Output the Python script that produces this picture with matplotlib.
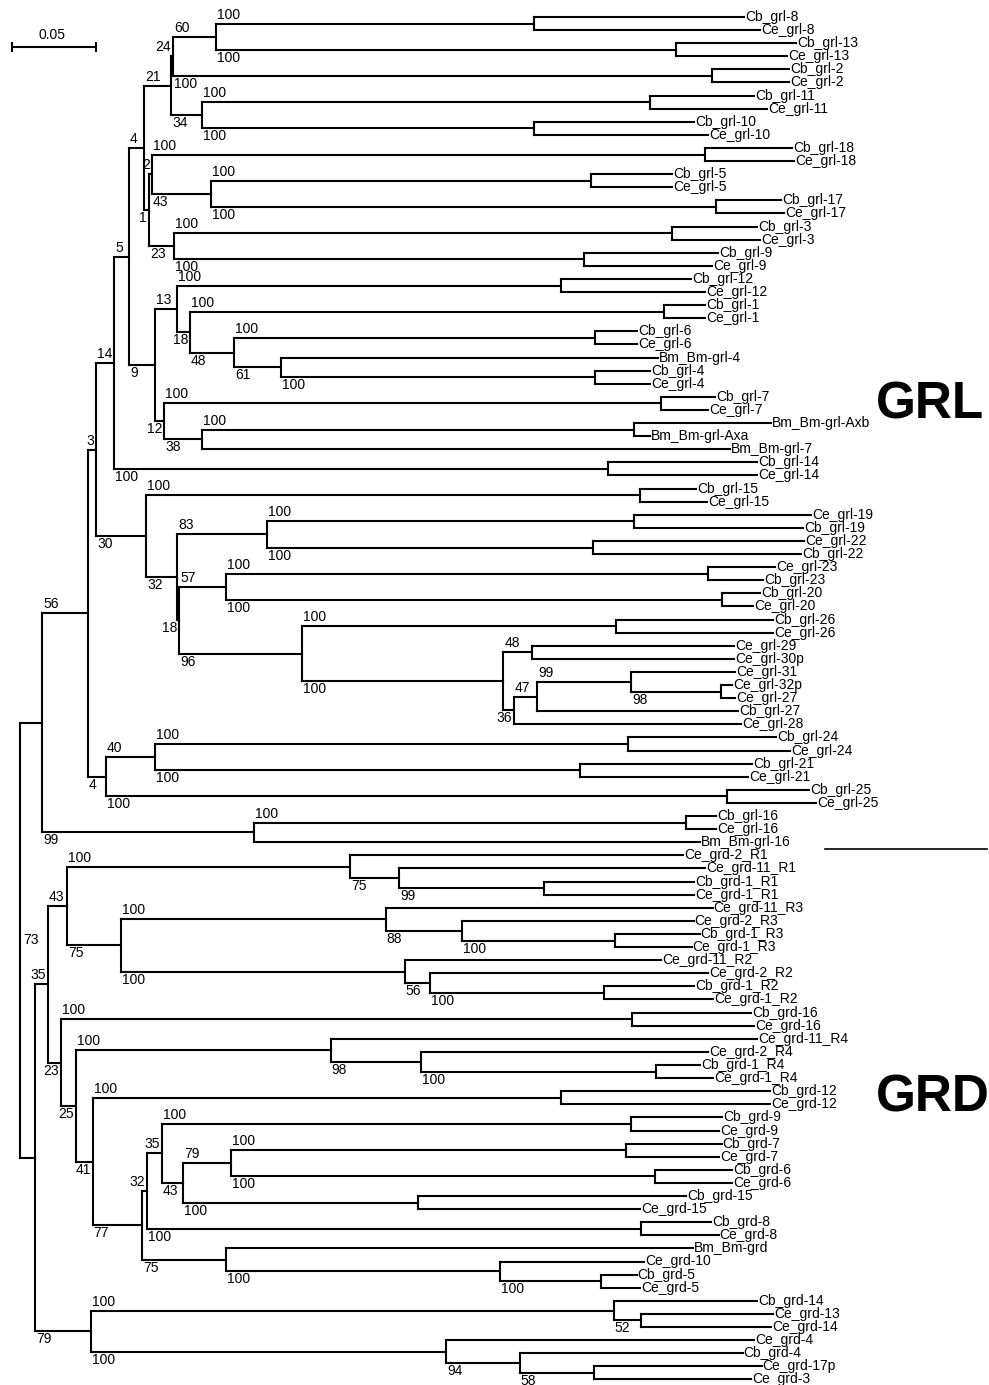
import matplotlib
matplotlib.use("Agg")
import matplotlib.pyplot as plt
from matplotlib.collections import LineCollection
from matplotlib import transforms

plt.rcParams['font.family'] = ['Liberation Sans', 'DejaVu Sans']

# ---------------- data: tree pieces (Newick, branch lengths in subst./site, bootstrap %) ----
clade_grl8_13 = "((Cb_grl-8:0.1250,Ce_grl-8:0.1345)100:0.1893,(Cb_grl-13:0.0714,Ce_grl-13:0.0661)100:0.2738)60:0.0256"
clade_grl2 = "(Cb_grl-2:0.0458,Ce_grl-2:0.0458)100:0.3208"
clade_grl11_10 = "((Cb_grl-11:0.0619,Ce_grl-11:0.0696)100:0.2667,(Cb_grl-10:0.0952,Ce_grl-10:0.1036)100:0.1976)34:0.0185"
clade_grl18_5_17 = "((Cb_grl-18:0.0518,Ce_grl-18:0.0530)100:0.3292,((Cb_grl-5:0.0482,Ce_grl-5:0.0482)100:0.2262,(Cb_grl-17:0.0387,Ce_grl-17:0.0405)100:0.3006)43:0.0351)2:0.0018"
clade_grl3_9 = "((Cb_grl-3:0.0506,Ce_grl-3:0.0524)100:0.2964,(Cb_grl-9:0.0798,Ce_grl-9:0.0762)100:0.2440)23:0.0149"
clade_grl12_1_6_4 = "((Cb_grl-12:0.0774,Ce_grl-12:0.0857)100:0.2286,((Cb_grl-1:0.0244,Ce_grl-1:0.0244)100:0.2821,((Cb_grl-6:0.0250,Ce_grl-6:0.0250)100:0.2149,(Bm_Bm-grl-4:0.2244,(Cb_grl-4:0.0327,Ce_grl-4:0.0327)100:0.1869)61:0.0280)48:0.0262)18:0.0077)13:0.0131"
clade_grl7_Ax = "((Cb_grl-7:0.0321,Ce_grl-7:0.0280)100:0.2958,((Bm_Bm-grl-Axb:0.0815,Bm_Bm-grl-Axa:0.0095)100:0.2571,Bm_Bm-grl-7:0.3143)38:0.0226)12:0.0054"
clade_grl14 = "(Cb_grl-14:0.0887,Ce_grl-14:0.0887)100:0.2940"
clade_grl15 = "(Cb_grl-15:0.0333,Ce_grl-15:0.0399)100:0.2940"
clade_grl19_22 = "((Ce_grl-19:0.1054,Cb_grl-19:0.1006)100:0.2185,(Ce_grl-22:0.1256,Cb_grl-22:0.1238)100:0.1940)83:0.0536"
clade_grl23_20 = "((Ce_grl-23:0.0399,Cb_grl-23:0.0327)100:0.2869,(Cb_grl-20:0.0226,Ce_grl-20:0.0185)100:0.2952)57:0.0280"
clade_grl26_32 = "((Cb_grl-26:0.0935,Ce_grl-26:0.0935)100:0.1869,((Ce_grl-29:0.1202,Ce_grl-30p:0.1202)48:0.0173,(((Ce_grl-31:0.0619,(Ce_grl-32p:0.0065,Ce_grl-27:0.0083)98:0.0536)99:0.0560,Cb_grl-27:0.1196)47:0.0137,Ce_grl-28:0.1351)36:0.0065)100:0.1196)96:0.0732"
clade_grl24_21_25 = "(((Cb_grl-24:0.0881,Ce_grl-24:0.0964)100:0.2815,(Cb_grl-21:0.1024,Ce_grl-21:0.1000)100:0.2530)40:0.0292,(Cb_grl-25:0.0488,Ce_grl-25:0.0530)100:0.3696)4:0.0107"
clade_grl16 = "((Cb_grl-16:0.0179,Ce_grl-16:0.0179)100:0.2571,Bm_Bm-grl-16:0.2655)99:0.1262"

clade_R1 = "(Ce_grd-2_R1:0.1982,(Ce_grd-11_R1:0.1821,(Cb_grd-1_R1:0.0893,Ce_grd-1_R1:0.0893)99:0.0863)75:0.0292)100:0.1685"
clade_R3 = "(Ce_grd-11_R3:0.1946,(Ce_grd-2_R3:0.1381,(Cb_grd-1_R3:0.0506,Ce_grd-1_R3:0.0458)100:0.0911)88:0.0452)100:0.1577"
clade_R2 = "(Ce_grd-11_R2:0.1524,(Ce_grd-2_R2:0.1655,(Cb_grd-1_R2:0.0536,Ce_grd-1_R2:0.0649)100:0.1036)56:0.0149)100:0.1690"
clade_grd16 = "(Cb_grd-16:0.0708,Ce_grd-16:0.0726)100:0.3399"
clade_R4 = "(Ce_grd-11_R4:0.2536,(Ce_grd-2_R4:0.1708,(Cb_grd-1_R4:0.0262,Ce_grd-1_R4:0.0339)100:0.1399)98:0.0536)100:0.1518"
clade_grd12 = "(Cb_grd-12:0.1244,Ce_grd-12:0.1244)100:0.2786"
clade_grd9_7_6_15 = "((Cb_grd-9:0.0542,Ce_grd-9:0.0524)100:0.2792,(((Cb_grd-7:0.0571,Ce_grd-7:0.0554)100:0.2351,(Cb_grd-6:0.0458,Ce_grd-6:0.0458)100:0.2524)79:0.0286,(Cb_grd-15:0.1595,Ce_grd-15:0.1321)100:0.1399)43:0.0125)35:0.0089"
clade_grd8 = "(Cb_grd-8:0.0417,Ce_grd-8:0.0464)100:0.2940"
clade_grd10_5 = "(Bm_Bm-grd:0.2780,(Ce_grd-10:0.0857,(Cb_grd-5:0.0214,Ce_grd-5:0.0232)100:0.0601)100:0.1631)75:0.0500"
clade_grd14_3 = "((Cb_grd-14:0.0851,(Ce_grd-13:0.0786,Ce_grd-14:0.0774)52:0.0161)100:0.3113,(Ce_grd-4:0.1833,(Cb_grd-4:0.1327,(Ce_grd-17p:0.1000,Ce_grd-3:0.0935)58:0.0440)94:0.0440)100:0.2113)79:0.0333"

# composition of the backbone
n_173 = f"({clade_grl8_13},{clade_grl2})24:0.0012"
n_S = f"({n_173},{clade_grl11_10})21:0.0161"
n_W = f"({clade_grl18_5_17},{clade_grl3_9})1:0.0030"
n_T = f"({n_S},{n_W})4:0.0089"
n_Y = f"({clade_grl12_1_6_4},{clade_grl7_Ax})9:0.0155"
n_U = f"({n_T},{n_Y})5:0.0089"
n_Z = f"({n_U},{clade_grl14})14:0.0107"
n_LL = f"({clade_grl23_20},{clade_grl26_32})18:0.0012"
n_JJ = f"({clade_grl19_22},{n_LL})32:0.0185"
n_GG = f"({clade_grl15},{n_JJ})30:0.0298"
n_FF = f"({n_Z},{n_GG})3:0.0048"
n_HH = f"({n_FF},{clade_grl24_21_25})56:0.0274"
GRL = f"({n_HH},{clade_grl16}):0.0131"

n_VV = f"({clade_R1},({clade_R3},{clade_R2})75:0.0321)43:0.0113"
n_CCC = f"({clade_grd9_7_6_15},{clade_grd8})32:0.0030"
n_BBB = f"({n_CCC},{clade_grd10_5})77:0.0292"
n_AAA = f"({clade_grd12},{n_BBB})41:0.0101"
n_ZZ = f"({clade_R4},{n_AAA})25:0.0089"
n_YY = f"({clade_grd16},{n_ZZ})23:0.0077"
n_XX = f"({n_VV},{n_YY})35:0.0077"
GRD = f"({n_XX},{clade_grd14_3}):0.0089"
TREE = f"({GRL},{GRD})73;"

SCALE_LEN = 0.05
SCALE_LABEL = "0.05"
GROUP_LABELS = ["GRL", "GRD"]

# ---------------- parsing ----------------
def parse_newick(s):
    s = s.strip().rstrip(';')
    pos = 0

    def node():
        nonlocal pos
        nd = {'children': [], 'name': '', 'length': 0.0}
        if s[pos] == '(':
            pos += 1
            while True:
                nd['children'].append(node())
                if s[pos] == ',':
                    pos += 1
                    continue
                if s[pos] == ')':
                    pos += 1
                    break
        st = pos
        while pos < len(s) and s[pos] not in ':,()':
            pos += 1
        nd['name'] = s[st:pos]
        if pos < len(s) and s[pos] == ':':
            pos += 1
            st = pos
            while pos < len(s) and s[pos] not in ',()':
                pos += 1
            nd['length'] = float(s[st:pos])
        return nd
    return node()

root = parse_newick(TREE)
leaves = []

def layout(nd, x):
    nd['x'] = x
    if nd['children']:
        for c in nd['children']:
            layout(c, x + c['length'])
        nd['y'] = (nd['children'][0]['y'] + nd['children'][-1]['y']) / 2.0
    else:
        nd['y'] = float(len(leaves))
        leaves.append(nd)

layout(root, 0.0)

# ---------------- figure ----------------
W, H = 989, 1385
PX_PER_UNIT = 1680.0
ROOT_PX, TOP_PX, STEP_PX = 20.0, 17.0, 13.1

fig = plt.figure(figsize=(W / 100, H / 100), dpi=100)
ax = fig.add_axes([0, 0, 1, 1])
ax.set_axis_off()
ax.set_xlim(-ROOT_PX / PX_PER_UNIT, (W - ROOT_PX) / PX_PER_UNIT)
ax.set_ylim((H - TOP_PX) / STEP_PX, -TOP_PX / STEP_PX)

def off(dx, dy):
    return transforms.offset_copy(ax.transData, fig=fig, x=dx, y=dy, units='dots')

segs = []
FS = 10
DIGIT_PX = 0.556 * FS * 100 / 72.0

def walk(nd, parent=None, idx=0):
    if parent is not None:
        segs.append([(parent['x'], nd['y']), (nd['x'], nd['y'])])
    if nd['children']:
        segs.append([(nd['x'], nd['children'][0]['y']), (nd['x'], nd['children'][-1]['y'])])
        if parent is not None and nd['name']:
            txt = nd['name']
            wpx = DIGIT_PX * len(txt)
            blen_px = nd['length'] * PX_PER_UNIT
            above = (idx == 0)
            dy = 2 if above else -1
            va = 'bottom' if above else 'top'
            if blen_px >= wpx + 3:
                ax.text(parent['x'], nd['y'], txt, transform=off(1, dy), ha='left', va=va, fontsize=FS)
            else:
                ax.text(nd['x'], nd['y'], txt, transform=off(-2, dy), ha='right', va=va, fontsize=FS)
        for i, c in enumerate(nd['children']):
            walk(c, nd, i)
    else:
        ax.text(nd['x'], nd['y'], nd['name'], transform=off(1, 0), ha='left', va='center', fontsize=FS)

walk(root)
if root['name']:
    ax.text(root['x'], root['y'], root['name'], transform=off(3, 0), ha='left', va='center', fontsize=FS)

lc = LineCollection(segs, colors='black', linewidths=1.5, capstyle='projecting')
ax.add_collection(lc)

# scale bar
inv = ax.transData.inverted()
sx0, sy0 = inv.transform((12, H - 47))
tick = 5.0 / STEP_PX
ax.plot([sx0, sx0 + SCALE_LEN], [sy0, sy0], color='black', lw=1.5, solid_capstyle='butt')
for xx in (sx0, sx0 + SCALE_LEN):
    ax.plot([xx, xx], [sy0 - tick, sy0 + tick], color='black', lw=1.5, solid_capstyle='butt')
ax.text(sx0 + SCALE_LEN / 2, sy0, SCALE_LABEL, transform=off(-2, 5), ha='center', va='bottom', fontsize=FS)

# group separator and labels
n_grl = sum(1 for lf in leaves if '_grl' in lf['name'] or 'Bm-grl' in lf['name'])
sep_y = n_grl - 0.5
blend = transforms.blended_transform_factory(ax.transAxes, ax.transData)
ax.plot([825 / W, 987 / W], [sep_y, sep_y], color='black', lw=1.2, transform=blend)

fig.text(930 / W, 1 - 405 / H, GROUP_LABELS[0], ha='center', va='center', fontsize=37, fontweight='bold')
fig.text(933 / W, 1 - 1098 / H, GROUP_LABELS[1], ha='center', va='center', fontsize=37, fontweight='bold')

fig.savefig('out.png', dpi=100, facecolor='white')
